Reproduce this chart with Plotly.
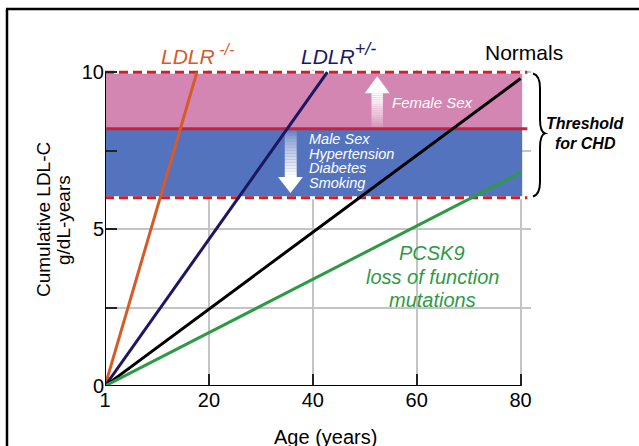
import plotly.graph_objects as go

# ---------------- data ----------------
age_ticks = [0, 20, 40, 60, 80]
age_tick_labels = ["1", "20", "40", "60", "80"]
ldl_ticks = [0, 2.5, 5, 7.5, 10]
ldl_tick_labels = ["0", "", "5", "", "10"]

series_names = ["LDLR -/-", "LDLR +/-", "Normals", "PCSK9"]
ldlr_hom_age = [0, 17.7]
ldlr_hom_ldl = [0, 10.0]
ldlr_het_age = [0, 42.8]
ldlr_het_ldl = [0, 10.0]
normal_age = [0, 80]
normal_ldl = [0, 9.8]
pcsk9_age = [0, 80]
pcsk9_ldl = [0, 6.8]

threshold_low = 6.0     # lower CHD threshold
threshold_mid = 8.2     # male/female split
threshold_high = 10.0   # upper CHD threshold

# ---------------- layout helpers ----------------
W, H = 639, 446
L, T, B, R = 105, 70, 446 - 386, 639 - 531
PW, PH = W - L - R, H - T - B
X_RANGE = [0, 82]
Y_RANGE = [0, 10.07]

def PX(px):
    return (px - L) / PW

def PY(py):
    return (H - B - py) / PH

FONT = "Liberation Sans, Arial, Helvetica, sans-serif"
ORANGE = "#D65B27"
NAVY = "#1D1763"
GREEN = "#2F9A46"
PINK = "#D386B2"
BLUE = "#5473BE"
RED = "#CC2128"

fig = go.Figure()

for xs, ys, col, name in [
    (ldlr_hom_age, ldlr_hom_ldl, ORANGE, series_names[0]),
    (ldlr_het_age, ldlr_het_ldl, NAVY, series_names[1]),
    (normal_age, normal_ldl, "#000000", series_names[2]),
    (pcsk9_age, pcsk9_ldl, GREEN, series_names[3]),
]:
    fig.add_trace(go.Scatter(x=xs, y=ys, mode="lines", name=name,
                             line=dict(color=col, width=3), showlegend=False,
                             hoverinfo="skip"))

shapes = []
# bands
shapes.append(dict(type="rect", xref="x", yref="y", x0=0, x1=80.3,
                   y0=threshold_mid, y1=threshold_high, fillcolor=PINK,
                   line=dict(width=0), layer="between"))
shapes.append(dict(type="rect", xref="x", yref="y", x0=0, x1=80.3,
                   y0=threshold_low, y1=threshold_mid, fillcolor=BLUE,
                   line=dict(width=0), layer="between"))

# gradient arrows
N = 16
# up arrow (Female Sex)
ux0, ux1, uy0, uy1 = 51.3, 53.5, threshold_mid + 0.02, 9.33
for i in range(N):
    a0 = uy0 + (uy1 - uy0) * i / N
    a1 = uy0 + (uy1 - uy0) * (i + 1) / N
    shapes.append(dict(type="rect", xref="x", yref="y", x0=ux0, x1=ux1,
                       y0=a0, y1=a1, fillcolor="white",
                       opacity=((i + 1) / N) ** 0.8, line=dict(width=0),
                       layer="between"))
shapes.append(dict(type="path", xref="x", yref="y",
                   path=f"M 50.0,{uy1} L 54.8,{uy1} L 52.4,9.87 Z",
                   fillcolor="white", line=dict(width=0), layer="between"))
# down arrow (Male Sex ...)
dx0, dx1, dy0, dy1 = 34.6, 36.9, threshold_mid - 0.05, 6.66
for i in range(N):
    a0 = dy0 + (dy1 - dy0) * i / N
    a1 = dy0 + (dy1 - dy0) * (i + 1) / N
    shapes.append(dict(type="rect", xref="x", yref="y", x0=dx0, x1=dx1,
                       y0=a1, y1=a0, fillcolor="white",
                       opacity=((i + 1) / N) ** 0.7, line=dict(width=0),
                       layer="between"))
shapes.append(dict(type="path", xref="x", yref="y",
                   path=f"M 33.3,{dy1} L 38.1,{dy1} L 35.7,6.15 Z",
                   fillcolor="white", line=dict(width=0), layer="between"))

# threshold lines
for yv in (threshold_low, threshold_high):
    shapes.append(dict(type="line", xref="x", yref="y", x0=0, x1=81.3,
                       y0=yv, y1=yv, line=dict(color="white", width=3),
                       layer="between"))
    shapes.append(dict(type="line", xref="x", yref="y", x0=0, x1=81.3,
                       y0=yv, y1=yv, line=dict(color=RED, width=3, dash="9px,5px"),
                       layer="between"))
shapes.append(dict(type="line", xref="x", yref="y", x0=0, x1=81.3,
                   y0=threshold_mid, y1=threshold_mid,
                   line=dict(color="#C8233A", width=3), layer="between"))

# axis lines
shapes.append(dict(type="line", xref="x", yref="y", x0=0, x1=0, y0=0, y1=10,
                   line=dict(color="black", width=2), layer="above"))
shapes.append(dict(type="line", xref="x", yref="y", x0=0, x1=80, y0=0, y1=0,
                   line=dict(color="black", width=2), layer="above"))

# brace
bx = PX
brace = (f"M {bx(533)},9.96 "
         f"Q {bx(540)},9.9 {bx(540)},9.5 "
         f"L {bx(540)},8.5 "
         f"Q {bx(540)},8.1 {bx(545)},8.05 "
         f"Q {bx(540)},8.0 {bx(540)},7.6 "
         f"L {bx(540)},6.5 "
         f"Q {bx(540)},6.1 {bx(533)},6.04")
shapes.append(dict(type="path", xref="paper", yref="y", path=brace,
                   line=dict(color="black", width=2), layer="above"))

# outer frame (left and top edges visible)
shapes.append(dict(type="line", xref="paper", yref="paper",
                   x0=PX(7), x1=PX(7), y0=PY(446), y1=PY(9),
                   line=dict(color="black", width=2.5), layer="above"))
shapes.append(dict(type="line", xref="paper", yref="paper",
                   x0=PX(6), x1=PX(639), y0=PY(9), y1=PY(9),
                   line=dict(color="black", width=2.5), layer="above"))

ann = []
def text(px, py, s, size, color="black", italic=False, xanchor="center", angle=0):
    ann.append(dict(xref="paper", yref="paper", x=PX(px), y=PY(py),
                    text=(f"<i>{s}</i>" if italic else s), showarrow=False,
                    xanchor=xanchor, yanchor="middle", textangle=angle,
                    font=dict(family=FONT, size=size, color=color)))

text(197, 55, "LDLR<sup><span style='font-size:16px'> -/-</span></sup>", 21, ORANGE, True)
text(338, 54, "LDLR<sup><span style='font-size:18px'>+/-</span></sup>", 21, NAVY, True)
text(524, 53, "Normals", 21, "black")
text(432, 102, "Female Sex", 15, "white", True)
for i, s in enumerate(["Male Sex", "Hypertension", "Diabetes", "Smoking"]):
    text(307, 139 + i * 14.7, s, 14.5, "white", True, xanchor="left")
text(585, 123, "<b>Threshold</b>", 16, "black", True)
text(585, 143, "<b>for CHD</b>", 16, "black", True)
for i, s in enumerate(["PCSK9", "loss of function", "mutations"]):
    text(432, 253 + i * 23.5, s, 20, GREEN, True)
text(43, 220, "Cumulative LDL-C", 19, "black", angle=-90)
text(63, 220, "g/dL-years", 19, "black", angle=-90)
text(325, 437, "Age (years)", 20, "black")

fig.update_layout(
    width=W, height=H,
    margin=dict(l=L, r=R, t=T, b=B),
    paper_bgcolor="white", plot_bgcolor="white",
    shapes=shapes, annotations=ann,
    font=dict(family=FONT, size=20, color="black"),
    xaxis=dict(range=X_RANGE, tickvals=age_ticks, ticktext=age_tick_labels,
               showgrid=True, gridcolor="#C4C4C4", gridwidth=1.5,
               zeroline=False, showline=False, ticks="inside", ticklen=12,
               tickwidth=2, tickcolor="#222", tickfont=dict(size=20)),
    yaxis=dict(range=Y_RANGE, tickvals=ldl_ticks, ticktext=ldl_tick_labels,
               showgrid=True, gridcolor="#C4C4C4", gridwidth=1.5,
               zeroline=False, showline=False, ticks="inside", ticklen=12,
               tickwidth=2, tickcolor="#222", tickfont=dict(size=20)),
)

fig.write_html("out.html",
               config={"displayModeBar": False},
               post_script="document.body.style.margin='0';"
                           "document.body.style.overflow='hidden';")
